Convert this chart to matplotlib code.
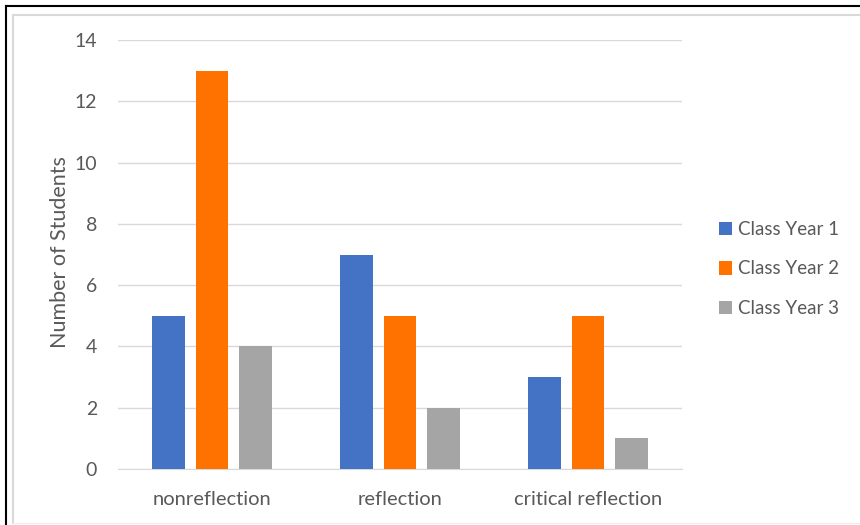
import matplotlib
matplotlib.use("Agg")
import matplotlib.pyplot as plt
from matplotlib.lines import Line2D
import numpy as np

categories = ["nonreflection", "reflection", "critical reflection"]
series_names = ["Class Year 1", "Class Year 2", "Class Year 3"]
year1 = [5, 7, 3]
year2 = [13, 5, 5]
year3 = [4, 2, 1]
y_ticks = [0, 2, 4, 6, 8, 10, 12, 14]

colors = ["#4472C4", "#FF7200", "#A5A5A5"]
text_color = "#595959"

plt.rcParams["font.family"] = ["Lato", "DejaVu Sans"]

fig = plt.figure(figsize=(8.6, 5.25), dpi=100)
ax = fig.add_axes([118 / 860, 56 / 525, 564 / 860, 429 / 525])

x = np.arange(len(categories))
width = 0.175
offset = 0.229
for i, (vals, name) in enumerate(zip([year1, year2, year3], series_names)):
    ax.bar(x + (i - 1) * offset, vals, width, color=colors[i], label=name, zorder=3)

ax.set_xlim(-0.5, len(categories) - 0.5)
ax.set_ylim(0, 14)
ax.set_yticks(y_ticks)
ax.set_xticks(x)
ax.set_xticklabels(categories)
ax.grid(axis="y", color="#D9D9D9", linewidth=1, zorder=0)
for side in ["top", "right", "left"]:
    ax.spines[side].set_visible(False)
ax.spines["bottom"].set_color("#D9D9D9")
ax.tick_params(axis="both", length=0, colors=text_color)
ax.tick_params(axis="y", pad=15, labelsize=14)
ax.tick_params(axis="x", pad=16, labelsize=14.5)
ax.set_ylabel("Number of Students", color=text_color, fontsize=15.5)
ax.yaxis.set_label_coords(-0.085, 0.506)

leg = fig.legend(loc="center left", bbox_to_anchor=(702 / 860, 1 - 269 / 525),
                 frameon=False, fontsize=13.5, handlelength=0.7, handleheight=0.7,
                 handletextpad=0.3, labelspacing=1.2)
for t in leg.get_texts():
    t.set_color(text_color)

# outer frame lines
fig.add_artist(Line2D([6 / 860, 6 / 860], [0, 1 - 6 / 525], transform=fig.transFigure,
                      color="black", linewidth=1.5))
fig.add_artist(Line2D([6 / 860, 1], [1 - 6 / 525, 1 - 6 / 525], transform=fig.transFigure,
                      color="black", linewidth=1.5))
# chart area border
fig.add_artist(Line2D([13 / 860, 13 / 860], [2 / 525, 1 - 15 / 525], transform=fig.transFigure,
                      color="#D9D9D9", linewidth=1.5))
fig.add_artist(Line2D([13 / 860, 1], [1 - 15 / 525, 1 - 15 / 525], transform=fig.transFigure,
                      color="#D9D9D9", linewidth=1.5))
fig.add_artist(Line2D([13 / 860, 1], [2 / 525, 2 / 525], transform=fig.transFigure,
                      color="#EEEEEE", linewidth=1))

fig.savefig("out.png", dpi=100)
